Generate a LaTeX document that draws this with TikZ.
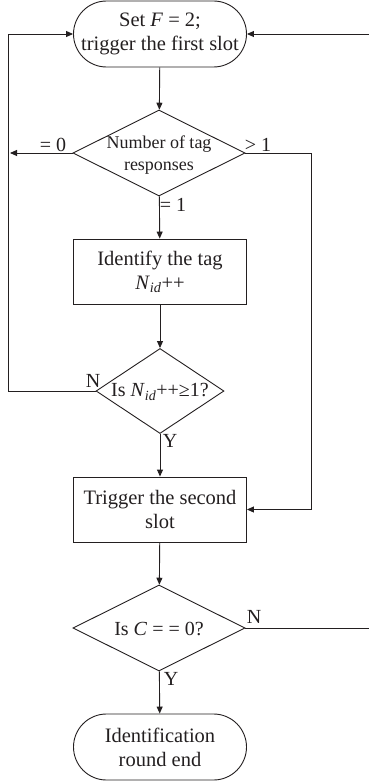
\documentclass[tikz,border=0pt]{standalone}
\usepackage{fontspec}
\setmainfont{Liberation Serif}
\usetikzlibrary{shapes.geometric,arrows.meta}
\definecolor{ink}{RGB}{35,31,32}
\begin{document}
\begin{tikzpicture}[x=1pt,y=-1pt, color=ink,
  every path/.style={line width=0.9pt},
  term/.style={draw, rectangle, rounded corners=33pt, minimum width=173pt, minimum height=66pt, inner sep=0pt, align=center, font=\fontsize{20.5}{24}\selectfont},
  procbox/.style={draw, rectangle, minimum width=173pt, minimum height=65pt, inner sep=0pt, align=center, font=\fontsize{20.5}{24}\selectfont},
  dec/.style={draw, diamond, inner sep=0pt, aspect=2},
  dectext/.style={align=center, inner sep=0pt},
  lbl/.style={font=\fontsize{20}{22}\selectfont, inner sep=0pt},
  arr/.style={-{Triangle[length=7pt,width=6pt]}}
]
\useasboundingbox (0,0) rectangle (369,784);

\node[term] (start) at (160,34) {Set \textit{F} = 2;\\trigger the first slot};
\node[dec, minimum width=172pt, minimum height=86pt] (d1) at (159,153) {};
\node[dectext, font=\fontsize{18}{22}\selectfont] (d1t) at (159,155) {Number of tag\\responses};
\node[procbox] (b1) at (160,271.5) {Identify the tag\\\textit{N}\textsubscript{\textit{id}}++};
\node[dec, minimum width=128pt, minimum height=85pt] (d2) at (160,391) {};
\node[dectext, font=\fontsize{20}{22}\selectfont] (d2t) at (160,392) {Is \textit{N}\textsubscript{\textit{id}}++≥1?};
\node[procbox] (b2) at (160,509.5) {Trigger the second\\slot};
\node[dec, minimum width=172pt, minimum height=86pt] (d3) at (159,628) {};
\node[dectext, font=\fontsize{20}{22}\selectfont] (d3t) at (159,629) {Is \textit{C} = = 0?};
\node[term] (end) at (160,747) {Identification\\round end};

\coordinate (lx) at (8,0);
\coordinate (rx) at (311,0);
\coordinate (topr) at (369,34);
\coordinate (midr) at (369,628);

% main flow
\draw[arr] (start) -- (d1);
\draw[arr] (d1) -- (b1);
\draw[arr] (b1) -- (d2);
\draw[arr] (d2) -- (b2);
\draw[arr] (b2) -- (d3);
\draw[arr] (d3) -- (end);

% loops
\draw[arr] (d1.west) -- (10,153);
\draw[arr] (d2.west) -- (lx |- d2.west) -- (lx |- start.west) -- (start.west);
\draw[arr] (d1.east) -- (rx |- d1.east) -- (rx |- b2.east) -- (b2.east);
\draw[arr] (topr) -- (start.east);
\draw (d3.east) -- (midr);

% labels
\node[lbl] at (53,145) {= 0};
\node[lbl] at (258,145) {> 1};
\node[lbl] at (173,205) {= 1};
\node[lbl] at (93,381) {N};
\node[lbl] at (170,441) {Y};
\node[lbl] at (254,617) {N};
\node[lbl] at (171,679) {Y};
\end{tikzpicture}
\end{document}
